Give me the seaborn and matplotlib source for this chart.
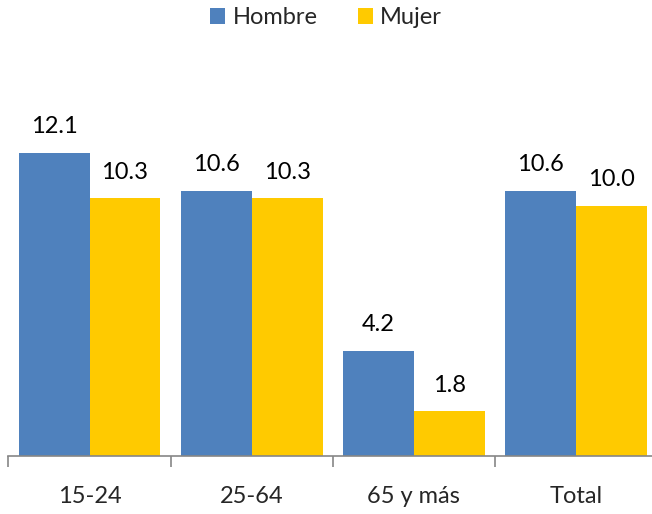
import pandas as pd
import matplotlib
matplotlib.use("Agg")
import matplotlib.pyplot as plt
import seaborn as sns

# datos
grupos = ["15-24", "25-64", "65 y más", "Total"]
hombre = [12.1, 10.6, 4.2, 10.6]
mujer = [10.3, 10.3, 1.8, 10.0]
series = ["Hombre", "Mujer"]
colores = ["#4F81BD", "#FFCA00"]

df = pd.DataFrame({
    "grupo": grupos * 2,
    "valor": hombre + mujer,
    "sexo": [series[0]] * len(grupos) + [series[1]] * len(grupos),
})

sns.set_style("white")
plt.rcParams["font.family"] = ["Lato", "DejaVu Sans"]

fig = plt.figure(figsize=(6.52, 5.14), dpi=100)
ax = fig.add_axes([8.4 / 652, 0.1119, 648.8 / 652, 0.6823])

sns.barplot(data=df, x="grupo", y="valor", hue="sexo", palette=colores,
            width=0.875, saturation=1, linewidth=0, ax=ax)

# etiquetas de valor
for cont in ax.containers:
    for bar in cont:
        h = bar.get_height()
        ax.annotate(f"{h:.1f}", (bar.get_x() + bar.get_width() / 2, h),
                    xytext=(0, 19), textcoords="offset points",
                    ha="center", va="center", fontsize=17, color="#000000")

ax.set_xlim(-0.5, len(grupos) - 0.5)
ax.set_ylim(0, 14)
ax.set_xlabel("")
ax.set_ylabel("")
ax.set_yticks([])

# marcas en los limites de categoria, etiquetas en el centro
ax.set_xticks([i - 0.5 for i in range(len(grupos) + 1)])
ax.set_xticklabels([])
ax.set_xticks(range(len(grupos)), minor=True)
ax.set_xticklabels(grupos, minor=True, fontsize=17)
ax.tick_params(axis="x", which="major", length=8, width=1.2, color="#868686",
               direction="out", bottom=True)
ax.tick_params(axis="x", which="minor", length=0, pad=21)

for s in ["top", "right", "left"]:
    ax.spines[s].set_visible(False)
ax.spines["bottom"].set_color("#868686")
ax.spines["bottom"].set_linewidth(1.2)

ax.legend(loc="center", ncol=2, frameon=False,
          fontsize=17, handlelength=0.65, handleheight=0.65,
          handletextpad=0.3, columnspacing=1.7)
leg = ax.get_legend()
leg.set_bbox_to_anchor((0.5, 1 - 18 / 514), transform=fig.transFigure)

fig.savefig("out.png", dpi=100)
